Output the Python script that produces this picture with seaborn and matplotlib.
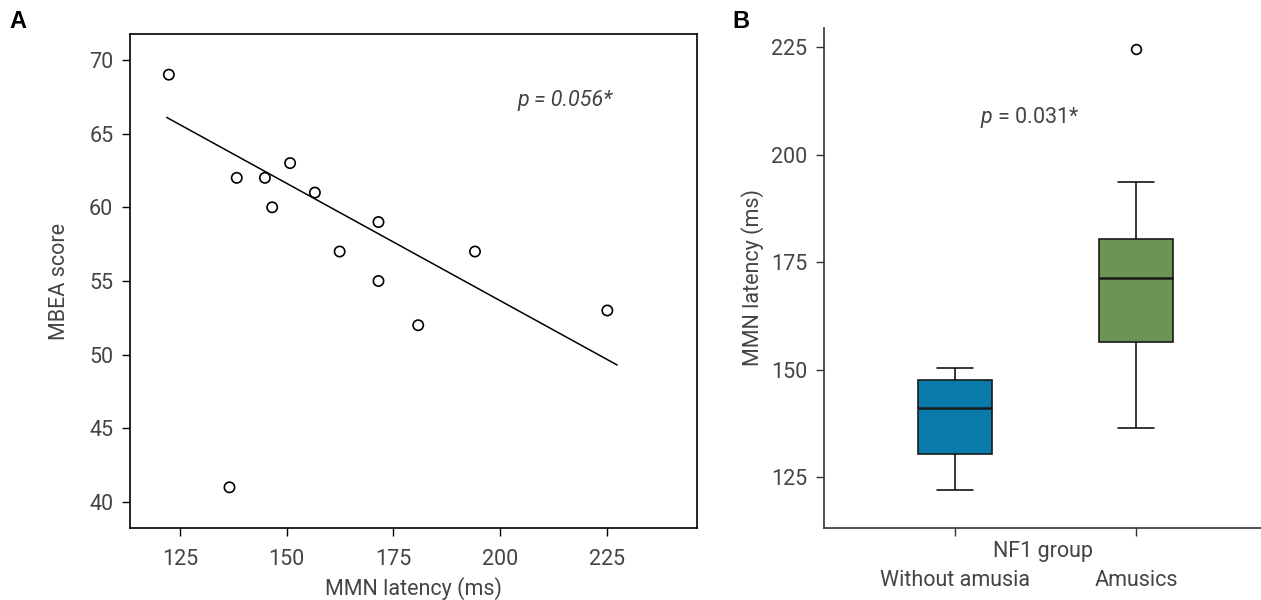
import numpy as np
import pandas as pd
import matplotlib
matplotlib.use("Agg")
import matplotlib.pyplot as plt
import seaborn as sns

# ---------------- data ----------------
# Panel A: MMN latency (ms) vs MBEA score
mmn_latency = [122.4, 136.6, 138.3, 144.9, 146.6, 150.8, 156.6, 162.4,
               171.5, 171.5, 180.8, 194.1, 225.1]
mbea_score = [69, 41, 62, 62, 60, 63, 61, 57, 59, 55, 52, 57, 53]
# fitted trend line (end points)
trend_x = [121.9, 227.4]
trend_y = [66.1, 49.3]
p_text_a = "p = 0.056*"
xticks_a = [125, 150, 175, 200, 225]
yticks_a = [40, 45, 50, 55, 60, 65, 70]

# Panel B: MMN latency by NF1 group (values reproducing the box statistics)
groups = ["Without amusia", "Amusics"]
lat_without = [122.1, 130.3, 141.2, 147.6, 150.5]
lat_amusics = [136.35, 156.35, 156.35, 171.3, 171.3, 180.5, 180.5, 193.7, 224.5]
yticks_b = [125, 150, 175, 200, 225]
box_colors = ["#0a7aab", "#6d9454"]

# ---------------- style ----------------
sns.set_theme(style="white")
plt.rcParams["font.family"] = ["Roboto", "DejaVu Sans"]
plt.rcParams["mathtext.fontset"] = "custom"
plt.rcParams["mathtext.it"] = "Roboto:italic"
plt.rcParams["mathtext.rm"] = "Roboto"
txt_col = "#444444"
fs = 15.5

fig = plt.figure(figsize=(12.61, 6.0), dpi=100)
axA = fig.add_axes([130 / 1261, 72 / 600, 567 / 1261, 494 / 600])
axB = fig.add_axes([824 / 1261, 72 / 600, 437 / 1261, 500 / 600])

# ---------------- Panel A ----------------
dfA = pd.DataFrame({"lat": mmn_latency, "mbea": mbea_score})
sns.scatterplot(data=dfA, x="lat", y="mbea", ax=axA, s=55,
                facecolor="none", edgecolor="black", linewidth=1.2, zorder=3)
sns.lineplot(x=trend_x, y=trend_y, ax=axA, color="black", linewidth=1.1)
axA.set_xlim(113.3, 246.1)
axA.set_ylim(38.24, 71.76)
axA.set_xticks(xticks_a)
axA.set_yticks(yticks_a)
axA.set_xlabel("MMN latency (ms)", fontsize=fs, color=txt_col, labelpad=5)
axA.set_ylabel("MBEA score", fontsize=fs, color=txt_col, labelpad=14)
axA.tick_params(axis="both", direction="out", length=6, width=1,
                color="black", labelsize=fs, labelcolor=txt_col,
                bottom=True, left=True, top=False, right=False)
axA.tick_params(axis="x", pad=9)
axA.tick_params(axis="y", pad=6)
for sp in axA.spines.values():
    sp.set_visible(True)
    sp.set_color("black")
    sp.set_linewidth(1.2)
axA.text(0.684, 0.866, p_text_a, transform=axA.transAxes, fontsize=fs,
         style="italic", color=txt_col, va="center", ha="left")

# ---------------- Panel B ----------------
dfB = pd.DataFrame({
    "group": [groups[0]] * len(lat_without) + [groups[1]] * len(lat_amusics),
    "lat": lat_without + lat_amusics,
})
sns.boxplot(data=dfB, x="group", y="lat", hue="group", order=groups,
            hue_order=groups, palette=box_colors, ax=axB, width=0.405,
            linewidth=1.2, linecolor="#1a1a1a", legend=False, saturation=1,
            medianprops=dict(linewidth=1.8, color="#1a1a1a"),
            whiskerprops=dict(color="black", linewidth=1.1),
            capprops=dict(color="black", linewidth=1.1),
            flierprops=dict(marker="o", markersize=7, markerfacecolor="none",
                            markeredgecolor="black", markeredgewidth=1.2))
axB.set_xlim(-0.724, 1.69)
axB.set_ylim(113.2, 229.5)
axB.set_yticks(yticks_b)
axB.set_ylabel("MMN latency (ms)", fontsize=fs, color=txt_col, labelpad=5)
axB.set_xlabel("NF1 group", fontsize=fs, color=txt_col)
axB.xaxis.set_label_coords(0.501, -0.046)
axB.xaxis.label.set_va("center")
axB.tick_params(axis="both", direction="out", length=6, width=1,
                color="#333333", labelsize=fs, labelcolor=txt_col,
                bottom=True, left=True, top=False, right=False)
axB.tick_params(axis="x", pad=24)
axB.tick_params(axis="y", pad=6)
sns.despine(ax=axB)
for side in ["left", "bottom"]:
    axB.spines[side].set_color("#333333")
    axB.spines[side].set_linewidth(1.2)
axB.text(0.357, 0.82, r"$p$ = 0.031*", transform=axB.transAxes, fontsize=fs,
         color=txt_col, va="center", ha="left")

# panel letters
fig.text(9 / 1261, 1 - 22 / 600, "A", fontsize=17, fontweight="bold",
         family="Liberation Sans", va="center", ha="left", color="black")
fig.text(732 / 1261, 1 - 22 / 600, "B", fontsize=17, fontweight="bold",
         family="Liberation Sans", va="center", ha="left", color="black")

fig.savefig("out.png", dpi=100)
